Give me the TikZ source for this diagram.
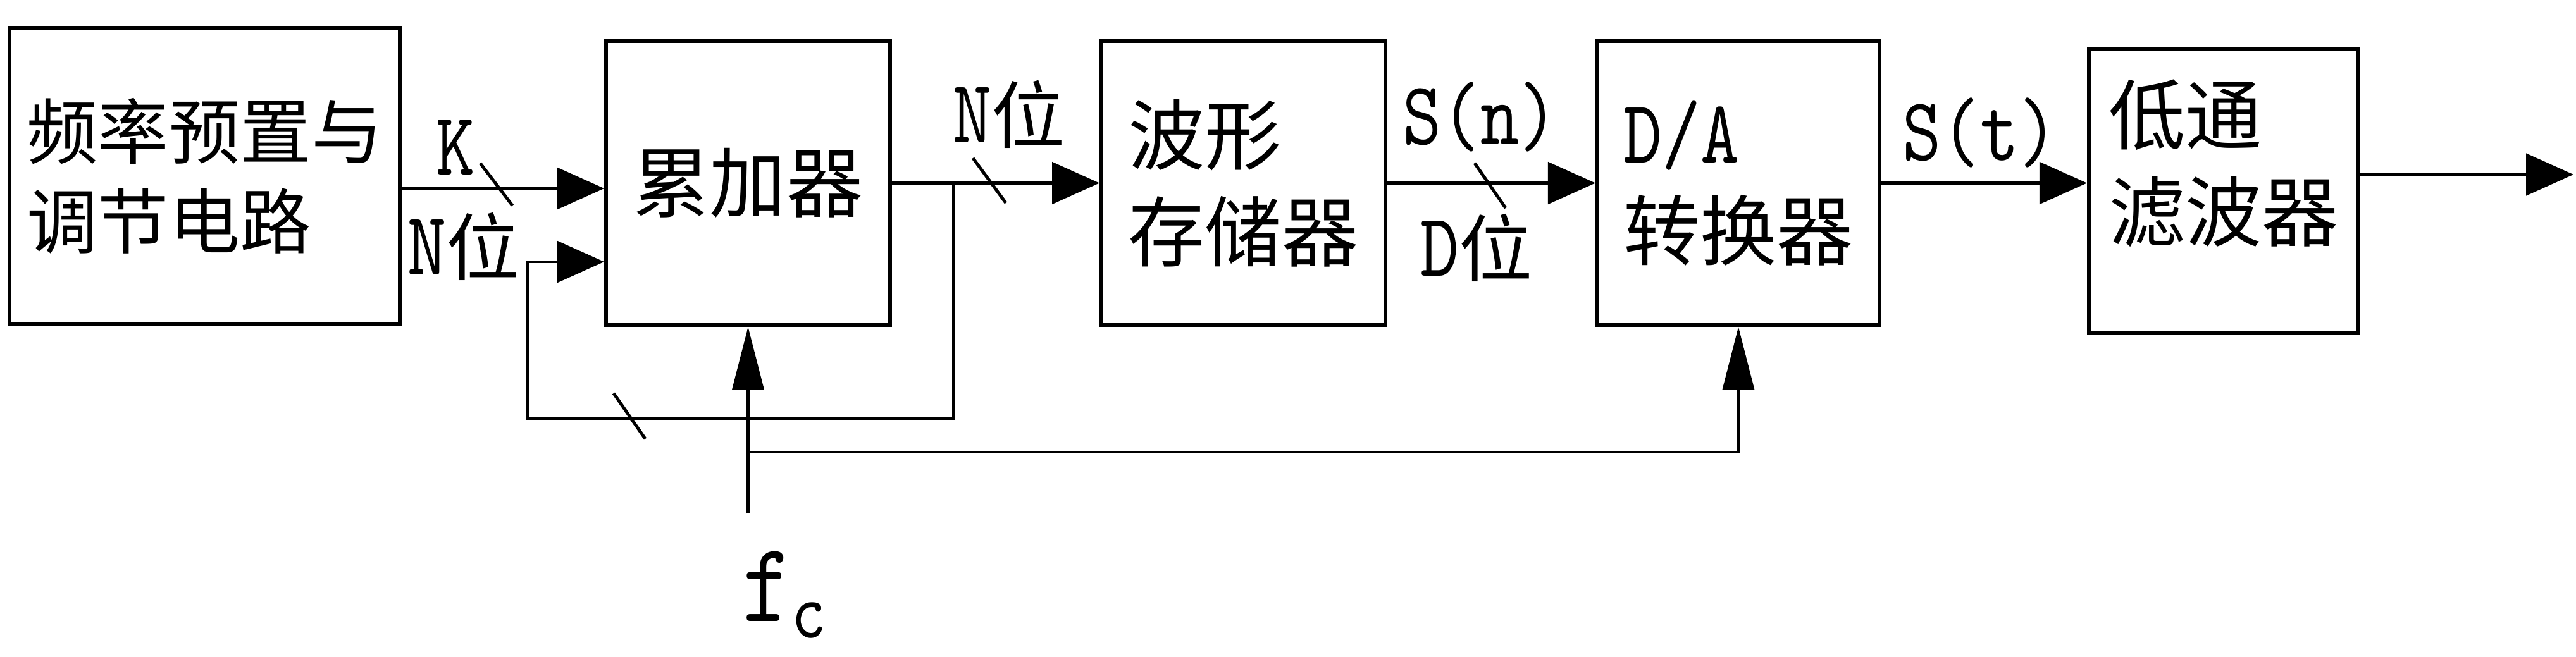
\documentclass[tikz,border=0pt]{standalone}
\usepackage{fontspec}
\newfontfamily\cjk{Noto Sans CJK SC}
\newfontfamily\latn{lmmono10-regular.otf}[FakeStretch=0.82]
\newcommand{\bigcjk}{\cjk\fontsize{34.5}{43.5}\selectfont}
\newcommand{\latsize}{\latn\fontsize{40.5}{43.5}\selectfont}
\newcommand{\wei}{{\cjk\fontsize{33}{40}\selectfont 位}}
\usepackage{tikz}
\usetikzlibrary{arrows.meta, positioning, calc}
\tikzset{
  % Box styles
  blockbox/.style={rectangle, draw=black, line width=1.7pt, minimum width=4.49cm, minimum height=4.49cm, inner sep=0pt, align=left, font=\bigcjk},
  % Arrow styles
  sigarrow/.style={-{Triangle[length=0.75cm, width=0.66cm]}, line width=1.4pt},
  clkarrow/.style={-{Triangle[length=1cm, width=0.5cm]}, line width=1.4pt},
  wire/.style={line width=1.4pt},
  % Label styles
  buslabel/.style={inner sep=0pt, font=\latsize}
}

\begin{document}
\begin{tikzpicture}
  \useasboundingbox (0,0) rectangle (40.72,-10.39);

  % Blocks
  \node[blockbox, minimum width=6.17cm, minimum height=4.69cm, font=\cjk\fontsize{32}{40.5}\selectfont] (gen) at (3.235,-2.785) {频率预置与\\调节电路};
  \node[blockbox] (acc) at (11.825,-2.895) {累加器};
  \node[blockbox, right=3.28cm of acc] (rom) {波形\\存储器};
  \node[blockbox, minimum width=4.46cm, right=3.29cm of rom] (dac) {{\latsize D/A}\\转换器};
  \node[blockbox, minimum width=4.26cm, minimum height=4.48cm, right=3.25cm of dac, yshift=-0.125cm] (lpf) {低通\\滤波器\\[-0.56cm]\mbox{}};

  % Signal path
  \draw[sigarrow] ([yshift=-0.195cm]gen.east) -- ([yshift=-0.085cm]acc.west);
  \draw[sigarrow] (acc) -- (rom);
  \draw[sigarrow] (rom.east) -- (rom.east -| dac.west);
  \draw[sigarrow] (dac.east) -- (dac.east -| lpf.west);
  \coordinate (outend) at (40.68,-2.76);
  \draw[sigarrow] (lpf.east |- outend) -- (outend);

  % Feedback
  \coordinate (tap) at (15.07,-2.895);
  \coordinate (fbcorner) at (8.34,-6.62);
  \draw[sigarrow] (tap) |- (fbcorner) |- ([yshift=-1.245cm]acc.west);

  % Clock
  \coordinate (fcin) at (11.825,-8.12);
  \coordinate (fcsplit) at (11.825,-7.15);
  \draw[clkarrow] (fcin) -- (acc.south);
  \draw[clkarrow] (fcsplit) -| (dac.south);

  % Bus marks
  \draw[wire] (7.59,-2.58) -- (8.10,-3.25);
  \draw[wire] (15.38,-2.50) -- (15.90,-3.21);
  \draw[wire] (9.70,-6.22) -- (10.20,-6.94);
  \draw[wire] (23.31,-2.58) -- (23.80,-3.29);

  % Labels
  \node[buslabel] (klabel) at (7.2,-2.33) {K};
  \node[buslabel] (nlabel) at (7.33,-3.9) {N\wei};
  \node[buslabel] (nlabeltwo) at (15.95,-1.81) {N\wei};
  \node[buslabel] (snlabel) at (23.4,-1.85) {S(n)};
  \node[buslabel] (dlabel) at (23.34,-3.92) {D\wei};
  \node[buslabel] (stlabel) at (31.3,-2.1) {S(t)};
  \node[inner sep=0pt, font=\latn\fontsize{51}{51}\selectfont] (fclabel) at (12.4,-9.41) {f\raisebox{-0.26cm}{\fontsize{36}{36}\selectfont c}};
\end{tikzpicture}
\end{document}
